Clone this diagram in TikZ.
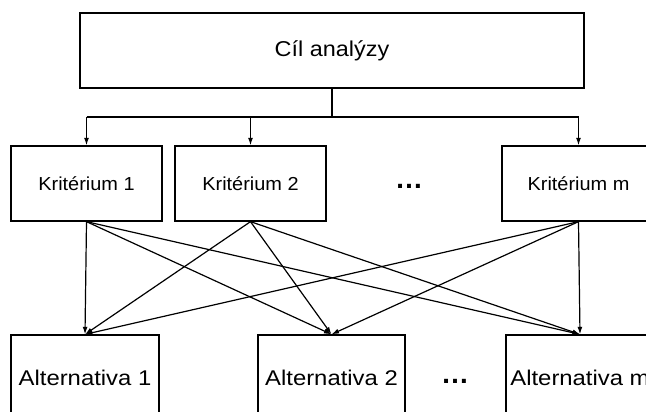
\documentclass[tikz,border=0pt]{standalone}
\usepackage{fontspec}
\setmainfont{Liberation Sans}
\usetikzlibrary{arrows.meta}
\begin{document}
\begin{tikzpicture}[x=1pt,y=-1pt,
  box/.style={draw, line width=1.3pt, inner sep=0pt, minimum height=75pt},
  altbox/.style={draw, line width=1.3pt, inner sep=0pt, minimum height=85pt},
  conn/.style={line width=1.2pt},
  arr/.style={line width=1.2pt, -{Latex[length=7.5pt,width=5pt]}},
  dots/.style={anchor=base, inner sep=0pt, font=\bfseries\fontsize{28}{30}\selectfont}]
\useasboundingbox (0,0) rectangle (646,412);
\clip (0,0) rectangle (646,412);
\fill[white] (0,0) rectangle (646,412);
% goal
\node[box, minimum width=504pt] (goal) at (332,50.5)
  {\fontsize{21.5}{24}\selectfont\scalebox{1.09}[1]{Cíl analýzy}};
% criteria
\node[box, minimum width=151pt] (k1) at (86.5,183.5)
  {\fontsize{18.8}{22}\selectfont\scalebox{1.06}[1]{Kritérium 1}};
\node[box, minimum width=151pt] (k2) at (250.5,183.5)
  {\fontsize{18.8}{22}\selectfont\scalebox{1.06}[1]{Kritérium 2}};
\node[box, minimum width=153pt] (km) at (578.5,183.5)
  {\fontsize{18.8}{22}\selectfont\scalebox{1.06}[1]{Kritérium m}};
\node[dots] (kd) at (409,188.5) {…};
% alternatives
\node[altbox, minimum width=148pt] (a1) at (85,377.5)
  {\fontsize{21.3}{24}\selectfont\scalebox{1.12}[1]{Alternativa 1}};
\node[altbox, minimum width=147pt] (a2) at (331.5,377.5)
  {\fontsize{21.3}{24}\selectfont\scalebox{1.12}[1]{Alternativa 2}};
\node[altbox, minimum width=148pt] (am) at (580,377.5)
  {\fontsize{21.3}{24}\selectfont\scalebox{1.12}[1]{Alternativa m}};
\node[dots] (ad) at (455,383) {…};
% tree connector
\coordinate (j) at (332,117);
\draw[line width=2.2pt] (goal.south) -- (j);
\draw[conn] (k1.north |- j) -- (km.north |- j);
\draw[arr] (k1.north |- j) -- (k1.north);
\draw[arr] (k2.north |- j) -- (k2.north);
\draw[arr] (km.north |- j) -- (km.north);
% criteria to alternatives
\foreach \k in {k1,k2,km}
  \foreach \a in {a1,a2,am}
    \draw[arr] (\k.south) -- (\a.north);
\end{tikzpicture}
\end{document}
